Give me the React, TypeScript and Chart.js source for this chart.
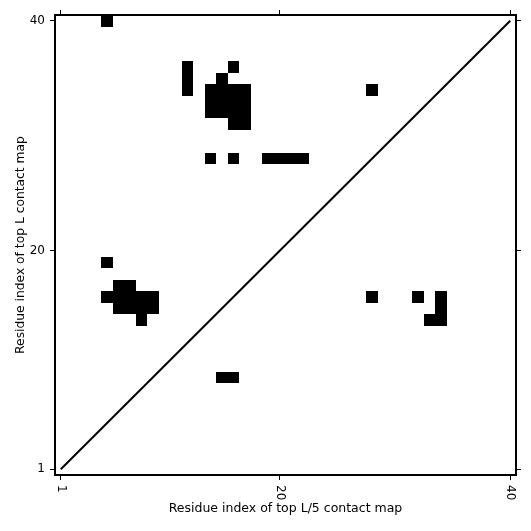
import React, { useEffect, useRef } from "react";
import { Chart, registerables } from "chart.js";

Chart.register(...registerables);

// Axis range / ticks (residue indices)
const residueMin = 1;
const residueMax = 40;
const tickValues = [1, 20, 40];

// Contacts of the "top L" map (upper triangle, x < y)
const topLResX = [5, 12, 12, 12, 16, 15, 14, 14, 14, 15, 15, 15, 16, 16, 16, 16, 17, 17, 17, 17, 14, 16, 19, 20, 21, 22, 28, 5, 6, 7, 5, 6, 7, 8, 9, 6, 7, 8, 9, 8];
const topLResY = [40, 36, 35, 34, 36, 35, 34, 33, 32, 34, 33, 32, 34, 33, 32, 31, 34, 33, 32, 31, 28, 28, 28, 28, 28, 28, 34, 19, 17, 17, 16, 16, 16, 16, 16, 15, 15, 15, 15, 14];

// Contacts of the "top L/5" map (lower triangle, x > y)
const topL5ResX = [15, 16, 28, 32, 34, 34, 34, 33];
const topL5ResY = [9, 9, 16, 16, 16, 15, 14, 14];

const xTitle = "Residue index of top L/5 contact map";
const yTitle = "Residue index of top L contact map";

const FONT = "'DejaVu Sans', sans-serif";

export default function App() {
  const ref = useRef<HTMLCanvasElement | null>(null);

  useEffect(() => {
    if (!ref.current) return;

    const setTicks = (scale: any) => {
      scale.ticks = tickValues.map((v) => ({ value: v }));
    };

    const cellPlugin = {
      id: "cells",
      beforeDatasetsDraw(chart: any) {
        const xs = chart.scales.x;
        const ys = chart.scales.y;
        const ctx = chart.ctx;
        ctx.save();
        ctx.fillStyle = "#000";
        const draw = (cx: number[], cy: number[]) => {
          for (let k = 0; k < cx.length; k++) {
            const x0 = Math.round(xs.getPixelForValue(cx[k] - 0.5));
            const x1 = Math.round(xs.getPixelForValue(cx[k] + 0.5));
            const y0 = Math.round(ys.getPixelForValue(cy[k] + 0.5));
            const y1 = Math.round(ys.getPixelForValue(cy[k] - 0.5));
            ctx.fillRect(x0, y0, x1 - x0, y1 - y0);
          }
        };
        draw(topLResX, topLResY);
        draw(topL5ResX, topL5ResY);
        ctx.restore();
      },
      afterDraw(chart: any) {
        const xs = chart.scales.x;
        const ctx = chart.ctx;
        ctx.save();
        ctx.fillStyle = "#000";
        ctx.font = `12px ${FONT}`;
        ctx.textAlign = "left";
        ctx.textBaseline = "middle";
        for (const v of tickValues) {
          const px = xs.getPixelForValue(v);
          ctx.save();
          ctx.translate(px, xs.top + 5 + 5);
          ctx.rotate(Math.PI / 2);
          ctx.fillText(String(v), 0, 0);
          ctx.restore();
        }
        ctx.restore();
      },
    };

    const axisCommon = {
      type: "linear" as const,
      min: residueMin - 0.5,
      max: residueMax + 0.5,
      afterBuildTicks: setTicks,
      grid: {
        drawOnChartArea: false,
        drawTicks: true,
        tickLength: 5,
        tickWidth: 1,
        tickColor: "#000",
      },
      border: { display: true, color: "#000", width: 2 },
    };

    const chart = new Chart(ref.current, {
      type: "scatter",
      data: {
        datasets: [
          {
            data: [
              { x: residueMin, y: residueMin },
              { x: residueMax, y: residueMax },
            ],
            showLine: true,
            borderColor: "#000",
            borderWidth: 2,
            pointRadius: 0,
            xAxisID: "x",
            yAxisID: "y",
          },
        ],
      },
      options: {
        responsive: false,
        animation: false,
        devicePixelRatio: 1,
        layout: { padding: 0 },
        plugins: { legend: { display: false }, tooltip: { enabled: false } },
        scales: {
          x: {
            ...axisCommon,
            position: "bottom",
            ticks: { color: "rgba(0,0,0,0)", font: { size: 12, family: FONT }, maxRotation: 0, autoSkip: false },
            afterFit: (s: any) => {
              s.height = 56;
            },
            title: {
              display: true,
              text: xTitle,
              color: "#000",
              font: { size: 12.5, family: FONT, lineHeight: 1.2 },
              padding: { top: 0, bottom: 15 },
            },
          },
          x2: {
            ...axisCommon,
            position: "top",
            ticks: { color: "rgba(0,0,0,0)", font: { size: 12, family: FONT }, maxRotation: 0, autoSkip: false },
            afterFit: (s: any) => {
              s.height = 15;
            },
          },
          y: {
            ...axisCommon,
            position: "left",
            ticks: { color: "#000", font: { size: 12, family: FONT }, padding: 5, autoSkip: false },
            afterFit: (s: any) => {
              s.width = 55;
            },
            title: {
              display: true,
              text: yTitle,
              color: "#000",
              font: { size: 12.3, family: FONT, lineHeight: 1.2 },
              padding: { top: 13, bottom: 0 },
            },
          },
          y2: {
            ...axisCommon,
            position: "right",
            ticks: { color: "rgba(0,0,0,0)", font: { size: 12, family: FONT }, autoSkip: false },
            afterFit: (s: any) => {
              s.width = 15;
            },
          },
        },
      },
      plugins: [cellPlugin],
    } as any);

    return () => chart.destroy();
  }, []);

  return (
    <div style={{ position: "fixed", left: 0, top: 0, width: 531, height: 531, background: "#fff" }}>
      <canvas ref={ref} width={531} height={531} style={{ display: "block" }} />
    </div>
  );
}
